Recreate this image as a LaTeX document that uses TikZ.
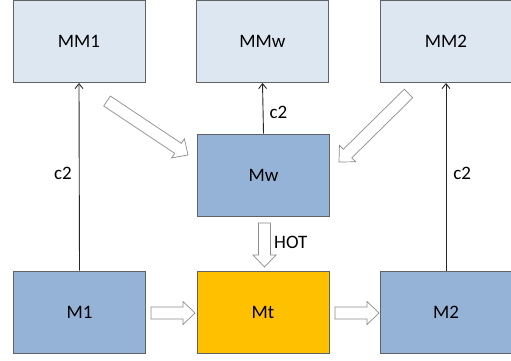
\documentclass[tikz,border=0pt]{standalone}
\usepackage{fontspec}
\setmainfont{Carlito}
\usetikzlibrary{calc,arrows.meta}
\definecolor{lightbox}{HTML}{DDE7F2}
\definecolor{midbox}{HTML}{95B3D7}
\definecolor{goldbox}{HTML}{FFC000}
\definecolor{bordergray}{HTML}{5F6366}
\definecolor{arrgray}{HTML}{8C8C8C}
\tikzset{
  box/.style={draw=bordergray, line width=0.9pt, minimum width=132pt, minimum height=82pt, inner sep=0pt, font=\fontsize{19}{22}\selectfont},
  light/.style={box, fill=lightbox},
  mid/.style={box, fill=midbox},
  gold/.style={box, fill=goldbox},
  lineto/.style={draw=black!85, line width=0.9pt, -{Straight Barb[length=5pt,width=8pt]}},
  barrow/.style={draw=arrgray, fill=white, line width=0.7pt, line join=miter},
  lbl/.style={font=\fontsize{19}{22}\selectfont, inner sep=1pt}
}
\newcommand\blockarr[2]{%
  \coordinate (hb) at ($(#2)!12pt!(#1)$);
  \draw[barrow] ($(#1)!6pt!90:(#2)$) -- ($(hb)!6pt!90:(#2)$) -- ($(hb)!11.5pt!90:(#2)$) -- (#2)
    -- ($(hb)!11.5pt!-90:(#2)$) -- ($(hb)!6pt!-90:(#2)$) -- ($(#1)!6pt!-90:(#2)$) -- cycle;}
\begin{document}
\begin{tikzpicture}[x=1pt,y=-1pt]
\useasboundingbox (0,0) rectangle (511,360);
\clip (0,0) rectangle (511,360);
% boxes
\node[light] (MM1) at (79,41.5) {MM1};
\node[light] (MMw) at (262.5,41.5) {MMw};
\node[light] (MM2) at (446,41.5) {MM2};
\node[mid] (Mw) at (263.5,175) {Mw};
\node[mid] (M1) at (79.5,312) {M1};
\node[gold] (Mt) at (263,312) {Mt};
\node[mid] (M2) at (446,312) {M2};
% thin arrows
\draw[lineto] (M1.north) -- node[lbl, pos=0.52, left=6pt] {c2} (MM1.south);
\draw[lineto] (Mw.north) -- node[lbl, pos=0.42, right=5pt] {c2} (MMw.south);
\draw[lineto] (M2.north) -- node[lbl, pos=0.52, right=6pt] {c2} (MM2.south);
% block arrows
\coordinate (a1s) at (151,313);
\coordinate (a1e) at (195,313);
\blockarr{a1s}{a1e}
\coordinate (a2s) at (335,313);
\coordinate (a2e) at (379,313);
\blockarr{a2s}{a2e}
\coordinate (hs) at (264.5,223);
\coordinate (he) at (264.5,267);
\blockarr{hs}{he}
\node[lbl, anchor=west] (hot) at (273,242) {HOT};
\coordinate (d1s) at (107,101);
\coordinate (d1e) at (188,155);
\blockarr{d1s}{d1e}
\coordinate (d2s) at (408.5,93.5);
\coordinate (d2e) at (339,162);
\blockarr{d2s}{d2e}
\end{tikzpicture}
\end{document}
